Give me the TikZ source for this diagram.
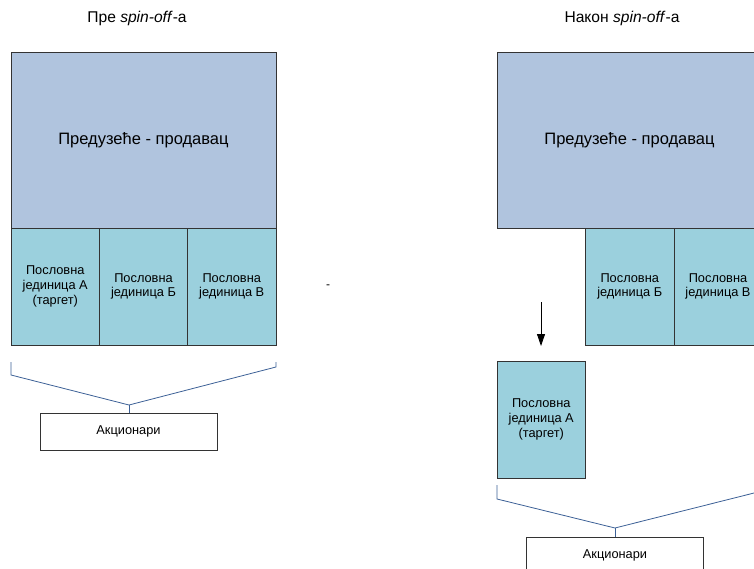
\documentclass[tikz,border=0pt]{standalone}
\usepackage{fontspec}
\setmainfont{Liberation Sans}
\usepackage{tikz}
\usepackage{xcolor}
\usetikzlibrary{calc, arrows.meta}

\definecolor{sellerblue}{RGB}{176,196,222}
\definecolor{unitblue}{RGB}{155,208,221}
\definecolor{bracketblue}{RGB}{60,96,150}

\tikzset{
  seller/.style={draw=black!80, fill=sellerblue, minimum width=265pt, minimum height=176pt, font=\fontsize{16.5}{19}\selectfont, inner sep=0pt},
  unit/.style={draw=black!80, fill=unitblue, minimum width=88.5pt, minimum height=117pt, align=center, font=\fontsize{12.8}{14.8}\selectfont, inner sep=0pt},
  holders/.style={draw=black!80, fill=white, minimum width=177pt, minimum height=37pt, font=\fontsize{12.8}{15}\selectfont, inner sep=0pt},
  heading/.style={font=\fontsize{15.6}{19}\selectfont},
  brace/.style={draw=bracketblue, line width=0.8pt},
}

\begin{document}
\begin{tikzpicture}[x=1pt, y=-1pt]
  \useasboundingbox (0,0) rectangle (754,569);
  \clip (0,0) rectangle (754,569);

  % before
  \node[heading] (titleL) at (137,18) {Пре \textit{spin-off}-а};
  \node[seller] (sellL) at (143.5,140) {Предузеће - продавац};
  \node[unit] (unitAL) at (55.25,286.5) {Пословна\\јединица А\\(таргет)};
  \node[unit] (unitBL) at (143.5,286.5) {Пословна\\јединица Б};
  \node[unit] (unitVL) at (231.75,286.5) {Пословна\\јединица В};
  \node[holders] (akcL) at (128.5,431.5) {Акционари};
  \coordinate (bl1) at (11,362);
  \coordinate (bl2) at (11,375);
  \coordinate (bm) at (129,405);
  \coordinate (br2) at (276,367);
  \coordinate (br1) at (276,362);
  \draw[brace] (bl1) -- (bl2) -- (bm) -- (br2) -- (br1);
  \draw[brace] (bm) -- (akcL.north -| bm);

  \node[inner sep=0pt, font=\fontsize{12}{14}\selectfont] (dash) at (328,287) {-};

  % after
  \node[heading] (titleR) at (622,18) {Након \textit{spin-off}-а};
  \node[seller] (sellR) at (629.5,140) {Предузеће - продавац};
  \node[unit] (unitBR) at (629.75,286.5) {Пословна\\јединица Б};
  \node[unit] (unitVR) at (718,286.5) {Пословна\\јединица В};
  \node[unit] (unitAR) at (541.25,419.5) {Пословна\\јединица А\\(таргет)};
  \coordinate (arrS) at (541,302);
  \coordinate (arrE) at (541,346);
  \draw[-{Triangle[width=8pt,length=12pt]}, line width=0.8pt] (arrS) -- (arrE);
  \node[holders] (akcR) at (615,555.5) {Акционари};
  \coordinate (ql1) at (497,485);
  \coordinate (ql2) at (497,499);
  \coordinate (qm) at (615,528);
  \coordinate (qr2) at (762,491);
  \coordinate (qr1) at (762,485);
  \draw[brace] (ql1) -- (ql2) -- (qm) -- (qr2) -- (qr1);
  \draw[brace] (qm) -- (akcR.north -| qm);
\end{tikzpicture}
\end{document}
